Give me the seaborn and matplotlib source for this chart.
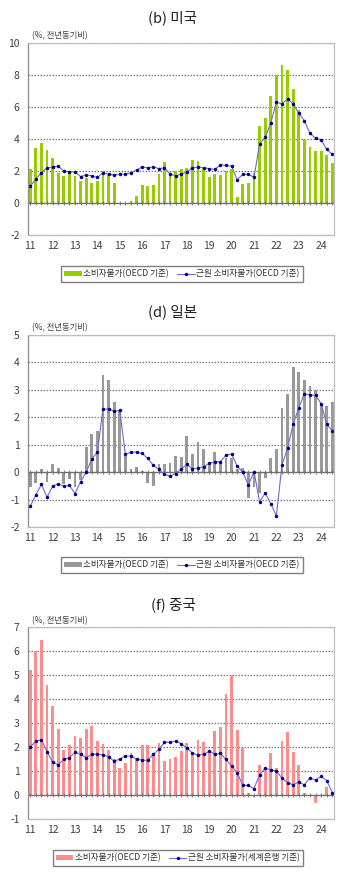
import numpy as np
import pandas as pd
import seaborn as sns
import matplotlib
matplotlib.use("Agg")
import matplotlib.pyplot as plt
from matplotlib.patches import Patch
from matplotlib.lines import Line2D

# ---------------- data (quarterly, 2011Q1 - 2024Q3) ----------------
year_labels = ['11', '12', '13', '14', '15', '16', '17', '18', '19', '20', '21', '22', '23', '24']

us_cpi = [2.1, 3.45, 3.75, 3.3, 2.8, 1.85, 1.7, 1.9, 1.7, 1.35,
          1.55, 1.25, 1.4, 2.0, 1.8, 1.25, -0.05, 0.0, 0.1, 0.45,
          1.1, 1.05, 1.1, 1.8, 2.55, 1.9, 2.0, 2.1, 2.2, 2.7,
          2.65, 2.2, 1.65, 1.8, 1.75, 2.0, 2.1, 0.35, 1.2, 1.25,
          1.9, 4.8, 5.3, 6.7, 8.0, 8.6, 8.3, 7.1, 5.8, 4.0,
          3.5, 3.25, 3.25, 3.0, 2.5]
us_core = [1.05, 1.5, 1.9, 2.2, 2.25, 2.3, 2.0, 1.95, 1.95, 1.65,
           1.75, 1.7, 1.6, 1.9, 1.8, 1.75, 1.8, 1.8, 1.9, 2.05,
           2.25, 2.2, 2.25, 2.15, 2.2, 1.8, 1.7, 1.8, 1.95, 2.2,
           2.25, 2.2, 2.15, 2.1, 2.4, 2.35, 2.3, 1.45, 1.8, 1.8,
           1.6, 3.7, 4.1, 5.0, 6.3, 6.2, 6.5, 6.2, 5.6, 5.15,
           4.35, 4.05, 3.95, 3.35, 3.05]

jp_cpi = [-0.55, -0.4, 0.1, -0.35, 0.3, 0.15, -0.45, -0.25, -0.55, -0.3,
          0.9, 1.4, 1.5, 3.55, 3.35, 2.55, 2.25, 0.6, 0.1, 0.2,
          0.05, -0.4, -0.5, 0.3, 0.3, 0.35, 0.6, 0.55, 1.3, 0.65,
          1.1, 0.85, 0.3, 0.75, 0.35, 0.5, 0.5, 0.1, 0.15, -0.95,
          -0.55, -0.75, -0.2, 0.5, 0.85, 2.35, 2.85, 3.85, 3.65, 3.37,
          3.15, 3.0, 2.5, 2.4, 2.55]
jp_core = [-1.25, -0.82, -0.45, -0.92, -0.52, -0.42, -0.52, -0.48, -0.78, -0.35,
           0.0, 0.48, 0.73, 2.3, 2.3, 2.22, 2.25, 0.65, 0.73, 0.73,
           0.68, 0.5, 0.25, 0.1, -0.08, -0.15, -0.05, 0.12, 0.28, 0.12,
           0.15, 0.2, 0.32, 0.38, 0.38, 0.62, 0.66, 0.22, 0.0, -0.47,
           0.02, -1.08, -0.77, -1.15, -1.6, 0.27, 0.87, 1.75, 2.35, 2.85,
           2.82, 2.8, 2.5, 1.75, 1.5]

cn_cpi = [5.2, 6.0, 6.45, 4.6, 3.72, 2.77, 1.88, 2.08, 2.47, 2.37,
          2.73, 2.88, 2.23, 2.13, 1.88, 1.5, 1.14, 1.35, 1.77, 1.5,
          2.09, 2.1, 1.7, 2.16, 1.42, 1.48, 1.6, 1.82, 2.15, 1.75,
          2.3, 2.2, 1.8, 2.67, 2.85, 4.22, 4.98, 2.72, 1.96, 0.1,
          -0.1, 1.25, 1.05, 1.77, 1.14, 2.24, 2.63, 1.81, 1.23, 0.1,
          -0.05, -0.32, 0.0, 0.32, 0.1]
cn_core = [2.0, 2.25, 2.3, 1.8, 1.37, 1.25, 1.5, 1.55, 1.78, 1.7,
           1.55, 1.7, 1.7, 1.68, 1.6, 1.4, 1.5, 1.62, 1.62, 1.5,
           1.45, 1.45, 1.7, 1.9, 2.2, 2.2, 2.25, 2.13, 1.95, 1.75,
           1.65, 1.7, 1.82, 1.7, 1.73, 1.48, 1.2, 0.92, 0.4, 0.4,
           0.27, 0.85, 1.12, 1.05, 1.0, 0.7, 0.52, 0.42, 0.55, 0.42,
           0.72, 0.62, 0.78, 0.6, 0.1]

titles = ['(b) 미국', '(d) 일본', '(f) 중국']
unit_label = '(%, 전년동기비)'
bar_labels = ['소비자물가(OECD 기준)', '소비자물가(OECD 기준)', '소비자물가(OECD 기준)']
line_labels = ['근원 소비자물가(OECD 기준)', '근원 소비자물가(OECD 기준)', '근원 소비자물가(세계은행 기준)']
y_ranges = [(-2, 10, 2), (-2, 5, 1), (-1, 7, 1)]

# ---------------- style ----------------
sns.set_theme(style="white")
plt.rcParams['font.family'] = ['Noto Sans CJK KR', 'DejaVu Sans']

W, H = 350, 886
fig = plt.figure(figsize=(W / 100, H / 100), dpi=100)

bar_colors = ['#99CC00', '#999999', '#FF8C8C']
line_color = '#6B6BD6'
marker_color = '#000080'

# pixel layout: (axes top, axes bottom, title y, unit y, legend cx, legend cy)
layout = [
    (43, 235, 18, 36, 182, 274),
    (335, 527, 312, 328, 182, 565),
    (627, 819, 605, 621, 178, 858),
]
ax_left, ax_right = 28, 334

series = [(us_cpi, us_core), (jp_cpi, jp_core), (cn_cpi, cn_core)]

for k, (cpi, core) in enumerate(series):
    top, bot, ty, uy, lcx, lcy = layout[k]
    ax = fig.add_axes([ax_left / W, 1 - bot / H, (ax_right - ax_left) / W, (bot - top) / H])
    n = len(cpi)
    df = pd.DataFrame({'q': np.arange(n), 'cpi': cpi, 'core': core})

    ymin, ymax, step = y_ranges[k]

    sns.barplot(data=df, x='q', y='cpi', native_scale=True, color=bar_colors[k],
                width=0.5, errorbar=None, ax=ax, zorder=2, saturation=1,
                linewidth=0, edgecolor=bar_colors[k])
    ax.axhline(0, color='#6E6E6E', lw=0.9, zorder=3)
    ax.plot(df['q'], np.zeros(n), ls='none', marker='|', ms=2.5, mew=0.6,
            color='#6E6E6E', zorder=3)
    sns.lineplot(data=df, x='q', y='core', color=line_color, lw=0.8, marker='o',
                 markersize=2.5, markerfacecolor=marker_color, markeredgecolor=marker_color,
                 markeredgewidth=0, ax=ax, zorder=4)

    ax.set_xlim(-0.4, n - 0.7)
    ax.set_ylim(ymin, ymax)
    ax.set_yticks(np.arange(ymin, ymax + step / 2, step))
    ax.set_yticklabels([f'{int(v)}' for v in np.arange(ymin, ymax + step / 2, step)])
    ax.set_xticks(np.arange(0, n, 4))
    ax.set_xticklabels(year_labels)
    ax.set_axisbelow(True)
    ax.grid(False)
    ax.yaxis.grid(True, color='#7A7A7A', linewidth=0.9, linestyle=(0, (1.2, 1.2)))
    ax.set_xlabel('')
    ax.set_ylabel('')
    ax.tick_params(axis='both', length=0, labelsize=7.5, colors='#404040')
    ax.tick_params(axis='y', pad=6)
    ax.tick_params(axis='x', pad=4)
    for side, sp in ax.spines.items():
        sp.set_visible(True)
        sp.set_color('#BDBDBD')
        sp.set_linewidth(0.9)
        sp.set_zorder(5)
    ax.spines['left'].set_color('#8C8C8C')

    fig.text(173 / W, 1 - ty / H, titles[k], ha='center', va='center',
             fontsize=10.5, color='#202020')
    fig.text(32 / W, 1 - uy / H, unit_label, ha='left', va='center',
             fontsize=6, color='#404040')

    handles = [Patch(facecolor=bar_colors[k], edgecolor='none'),
               Line2D([], [], color=line_color, lw=0.8, marker='o', ms=2.5,
                      mfc=marker_color, mec=marker_color, mew=0)]
    fig.legend(handles, [bar_labels[k], line_labels[k]], loc='center',
               bbox_to_anchor=(lcx / W, 1 - lcy / H), ncol=2, frameon=True,
               fancybox=False, edgecolor='#808080', fontsize=6.2,
               handlelength=2.0, handleheight=0.5, handletextpad=0.2,
               columnspacing=1.0, borderpad=0.35, labelcolor='#303030',
               framealpha=1)

fig.savefig('out.png', dpi=100)
